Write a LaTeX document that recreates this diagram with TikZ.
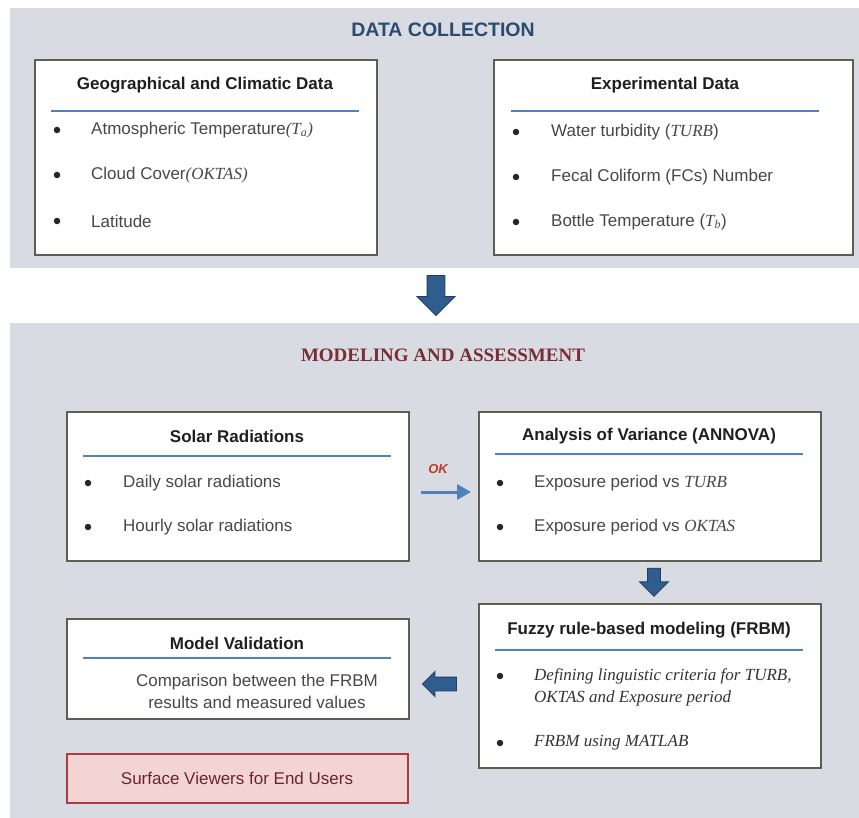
\documentclass[tikz,border=0pt]{standalone}
\usepackage{fontspec}
\setmainfont{Liberation Sans}
\newfontfamily\sv{Liberation Serif}
\usetikzlibrary{shapes.arrows,arrows.meta}

\definecolor{panelgray}{HTML}{D8DBE2}
\definecolor{boxedge}{HTML}{5E5E50}
\definecolor{ruleblue}{HTML}{4F81BD}
\definecolor{navy}{HTML}{2B4A6F}
\definecolor{maroon}{HTML}{7B2C36}
\definecolor{arrowblue}{HTML}{2F5E8E}
\definecolor{arrowdark}{HTML}{1F3F66}
\definecolor{okred}{HTML}{C0392B}
\definecolor{pinkfill}{HTML}{F2D4D5}
\definecolor{pinkedge}{HTML}{B03A40}

\begin{document}
\begin{tikzpicture}[x=1pt, y=-1pt,
    panel/.style={fill=panelgray},
    box/.style={draw=boxedge, line width=1.8pt, fill=white, anchor=north west, inner sep=0pt,
                minimum width=342pt},
    boxhead/.style={font=\bfseries\fontsize{17}{20}\selectfont, text=black!88, inner sep=0pt},
    item/.style={anchor=west, font=\fontsize{17}{20}\selectfont, text=black!72, inner sep=0pt},
    sitem/.style={anchor=west, font=\sv\itshape\fontsize{17}{22}\selectfont, text=black!80,
                  inner sep=0pt, align=left},
    dot/.style={circle, fill=black!85, inner sep=0pt, minimum size=6.5pt},
    rule/.style={draw=ruleblue, line width=2.4pt},
    fat/.style={single arrow, fill=arrowblue, draw=arrowdark, line width=.8pt}]
  \useasboundingbox (0,0) rectangle (859,818);
  \fill[panel] (10,8) rectangle (859,268);
  \fill[panel] (10,323) rectangle (859,818);

  % data collection
  \node[font=\bfseries\fontsize{19.5}{22}\selectfont, text=navy] (dc) at (443,30) {DATA COLLECTION};
  \node[box, minimum height=195pt] (geo) at (34,59) {};
  \node[boxhead] (geoT) at (205,85) {Geographical and Climatic Data};
  \draw[rule] (51,111) -- (359,111);
  \node[dot] (g1) at (57,130) {}; \node[item] (geo1) at (91,130) {Atmospheric Temperature{\sv\itshape(T\textsubscript{a})}};
  \node[dot] (g2) at (57,175) {}; \node[item] (geo2) at (91,175) {Cloud Cover{\sv\itshape(OKTAS)}};
  \node[dot] (g3) at (57,221) {}; \node[item] (geo3) at (91,221) {Latitude};

  \node[box, minimum width=359pt, minimum height=195pt] (exp) at (493,59) {};
  \node[boxhead] (expT) at (665,85) {Experimental Data};
  \draw[rule] (511,111) -- (819,111);
  \node[dot] (e1) at (516,132) {}; \node[item] (exp1) at (551,132) {Water turbidity ({\sv\itshape TURB})};
  \node[dot] (e2) at (516,177) {}; \node[item] (exp2) at (551,177) {Fecal Coliform (FCs) Number};
  \node[dot] (e3) at (516,222) {}; \node[item] (exp3) at (551,222) {Bottle Temperature ({\sv\itshape T\textsubscript{b}})};

  \node[fat, shape border rotate=270, minimum height=40pt, inner sep=8.5pt,
        single arrow head extend=10pt] (down) at (436,291) {};

  % modeling and assessment
  \node[font=\sv\bfseries\fontsize{19}{22}\selectfont, text=maroon] (ma) at (443,355) {MODELING AND ASSESSMENT};
  \node[box, minimum height=149pt] (solar) at (66,411) {};
  \node[boxhead] (solarT) at (237,436) {Solar Radiations};
  \draw[rule] (83,456) -- (391,456);
  \node[dot] (s1) at (88,483) {}; \node[item] (solar1) at (123,483) {Daily solar radiations};
  \node[dot] (s2) at (88,527) {}; \node[item] (solar2) at (123,527) {Hourly solar radiations};

  \node[box, minimum height=149pt] (anova) at (478,411) {};
  \node[boxhead] (anovaT) at (649,436) {Analysis of Variance (ANNOVA)};
  \draw[rule] (495,454) -- (803,454);
  \node[dot] (a1) at (500,483) {}; \node[item] (anova1) at (534,483) {Exposure period vs {\sv\itshape TURB}};
  \node[dot] (a2) at (500,527) {}; \node[item] (anova2) at (534,527) {Exposure period vs {\sv\itshape OKTAS}};

  \coordinate (okL) at (421,492); \coordinate (okR) at (471,492);
  \draw[ruleblue, line width=3pt, -{Triangle[length=14pt,width=15pt]}] (okL) -- (okR);
  \node[font=\bfseries\itshape\fontsize{13}{15}\selectfont, text=okred] (ok) at (438,469) {OK};

  \node[fat, shape border rotate=270, minimum height=28pt, inner sep=6pt,
        single arrow head extend=8pt] (down2) at (654,579) {};

  \node[box, minimum height=164pt] (frbm) at (478,603) {};
  \node[boxhead] (frbmT) at (649,630) {Fuzzy rule-based modeling (FRBM)};
  \draw[rule] (495,650) -- (803,650);
  \node[dot] (f1) at (500,676) {}; \node[sitem] (frbm1) at (534,687) {Defining linguistic criteria for TURB,\\OKTAS and Exposure period};
  \node[dot] (f2) at (500,743) {}; \node[sitem] (frbm2) at (534,743) {FRBM using MATLAB};

  \node[fat, shape border rotate=180, minimum height=34pt, inner sep=6.5pt,
        single arrow head extend=5.5pt] (left) at (443,684) {};

  \node[box, minimum height=100pt] (valid) at (66,618) {};
  \node[boxhead] (validT) at (237,643) {Model Validation};
  \draw[rule] (83,658) -- (391,658);
  \node[font=\fontsize{17}{22}\selectfont, text=black!72, align=center, inner sep=0pt] (valid1) at (257,691)
    {Comparison between the FRBM\\results and measured values};

  \node[box, minimum width=341pt, minimum height=49pt, fill=pinkfill, draw=pinkedge] (users) at (66,753) {};
  \node[font=\fontsize{17}{20}\selectfont, text=maroon!85!black] (usersT) at (237,778) {Surface Viewers for End Users};
\end{tikzpicture}
\end{document}
